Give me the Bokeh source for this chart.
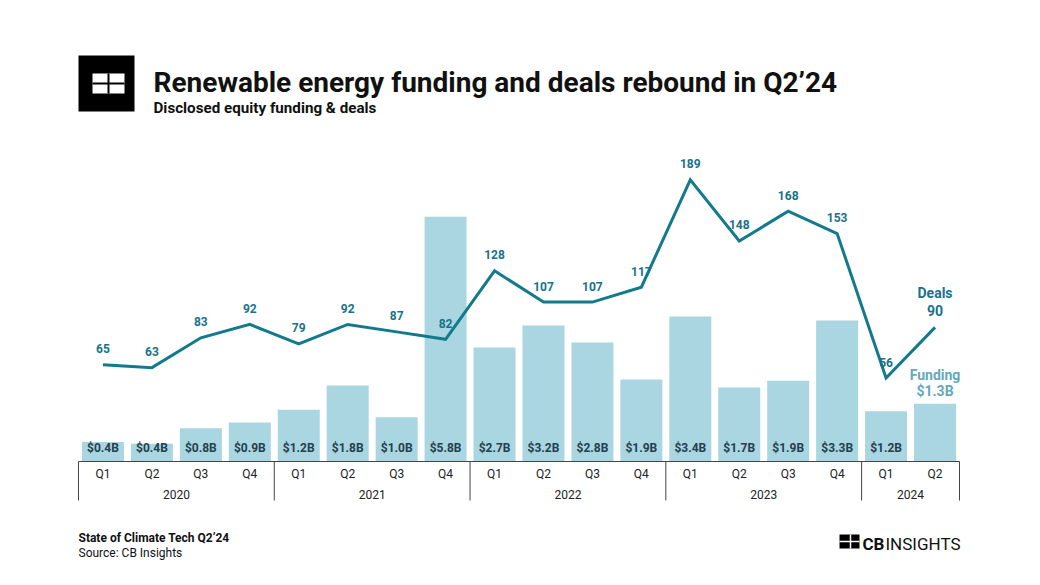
from bokeh.plotting import figure
from bokeh.models import Range1d
from bokeh.core.properties import value
from bokeh.embed import file_html
from bokeh.resources import INLINE

# ---------------- data ----------------
years = ["2020", "2021", "2022", "2023", "2024"]
quarters_per_year = [4, 4, 4, 4, 2]
quarters = ["Q1", "Q2", "Q3", "Q4"] * 4 + ["Q1", "Q2"]
funding = [0.46, 0.42, 0.78, 0.92, 1.22, 1.79, 1.04, 5.76, 2.68, 3.2, 2.8, 1.93,
           3.41, 1.74, 1.9, 3.32, 1.18, 1.36]
funding_labels = ["$0.4B", "$0.4B", "$0.8B", "$0.9B", "$1.2B", "$1.8B", "$1.0B", "$5.8B",
                  "$2.7B", "$3.2B", "$2.8B", "$1.9B", "$3.4B", "$1.7B", "$1.9B", "$3.3B",
                  "$1.2B", "$1.3B"]
deals = [65, 63, 83, 92, 79, 92, 87, 82, 128, 107, 107, 117, 189, 148, 168, 153, 56, 90]

title = "Renewable energy funding and deals rebound in Q2\u201924"
subtitle = "Disclosed equity funding & deals"
footer1 = "State of Climate Tech Q2\u201924"
footer2 = "Source: CB Insights"

# ---------------- layout ----------------
W, H = 1040, 585
X0, X1 = 78, 959
N = len(quarters)
CW = (X1 - X0) / N
BASE = 461
FPX = 42.5   # px per $B
DPX = 1.49   # px per deal

BAR_COLOR = "#a9d6e0"
LINE_COLOR = "#127a8c"
DEAL_TXT = "#17728a"
BAR_TXT = "#23404e"
FUND_TXT = "#62a9ba"
FONT = value("Roboto")


def dx(xp):
    return (xp - X0) / CW


def dy(yp):
    return (BASE - yp) / FPX


p = figure(width=W, height=H,
           x_range=Range1d(-X0 / CW, (W - X0) / CW),
           y_range=Range1d(-(H - BASE) / FPX, BASE / FPX),
           x_axis_type=None, y_axis_type=None,
           output_backend="svg", toolbar_location=None, min_border=0)
p.extra_y_ranges = {"deals": Range1d(-(H - BASE) / DPX, BASE / DPX)}
p.grid.visible = False
p.outline_line_color = None
p.background_fill_color = "white"
p.border_fill_color = "white"


def txt(x, y, s, size, color, bold=False, align="left", baseline="middle", **kw):
    p.text(x=x, y=y, text=s, text_font=FONT, text_font_size=f"{size}px",
           text_color=color, text_font_style="bold" if bold else "normal",
           text_align=align, text_baseline=baseline, **kw)


xs = [i + 0.5 for i in range(N)]

# bars
p.vbar(x=xs, top=funding, bottom=0, width=42 / CW, fill_color=BAR_COLOR, line_color=None)

# bar labels (all except last, which is annotated above)
txt(xs[:-1], [dy(447)] * (N - 1), funding_labels[:-1], 12, BAR_TXT, bold=True, align="center")

# deals line
p.line(x=xs, y=deals, y_range_name="deals", line_color=LINE_COLOR, line_width=3,
       line_join="miter")
txt(xs[:-1], deals[:-1], [str(d) for d in deals[:-1]], 12, DEAL_TXT, bold=True,
    align="center", y_range_name="deals", y_offset=-16)

# end annotations
txt([xs[-1]], [deals[-1]], [str(deals[-1])], 14, DEAL_TXT, bold=True, align="center",
    y_range_name="deals", y_offset=-17)
txt([xs[-1]], [deals[-1]], ["Deals"], 14, DEAL_TXT, bold=True, align="center",
    y_range_name="deals", y_offset=-34)
txt([xs[-1]], [funding[-1]], [funding_labels[-1]], 14, FUND_TXT, bold=True, align="center",
    y_offset=-13)
txt([xs[-1]], [funding[-1]], ["Funding"], 14, FUND_TXT, bold=True, align="center",
    y_offset=-29)

# x axis: baseline, separators, quarter & year labels
p.segment(x0=[0], y0=[0], x1=[N], y1=[0], line_color="#444444", line_width=1)
bounds = [0]
for q in quarters_per_year:
    bounds.append(bounds[-1] + q)
p.segment(x0=bounds, y0=[0] * len(bounds), x1=bounds, y1=[dy(500)] * len(bounds),
          line_color="#444444", line_width=1)
txt(xs, [dy(473)] * N, quarters, 12, "#222222", align="center")
year_centers = [(bounds[i] + bounds[i + 1]) / 2 for i in range(len(years))]
txt(year_centers, [dy(494)] * len(years), years, 12, "#222222", align="center")

# header logo
p.quad(left=[dx(78)], right=[dx(134)], top=[dy(55)], bottom=[dy(111)],
       fill_color="black", line_color=None)
p.quad(left=[dx(92)], right=[dx(124)], top=[dy(73)], bottom=[dy(93)],
       fill_color="white", line_color=None)
p.segment(x0=[dx(108), dx(92)], y0=[dy(73), dy(83)], x1=[dx(108), dx(124)], y1=[dy(93), dy(83)],
          line_color="black", line_width=2)

# titles
txt([dx(153)], [dy(82)], [title], 28, "#111111", bold=True, baseline="alphabetic")
txt([dx(153)], [dy(107)], [subtitle], 15.2, "#111111", bold=True, baseline="alphabetic")

# footer
txt([dx(78)], [dy(537)], [footer1], 12, "#111111", bold=True)
txt([dx(78)], [dy(552)], [footer2], 12, "#111111")

# CB Insights logo
p.quad(left=[dx(839)], right=[dx(859)], top=[dy(534)], bottom=[dy(548)],
       fill_color="black", line_color=None)
p.segment(x0=[dx(850), dx(839)], y0=[dy(534), dy(541)], x1=[dx(850), dx(859)], y1=[dy(548), dy(541)],
          line_color="white", line_width=1.5)
txt([dx(862)], [dy(543)], ["CB"], 17, "#111111", bold=True)
txt([dx(885)], [dy(543)], ["INSIGHTS"], 17, "#111111")

open("out.html", "w").write(file_html(p, INLINE))
